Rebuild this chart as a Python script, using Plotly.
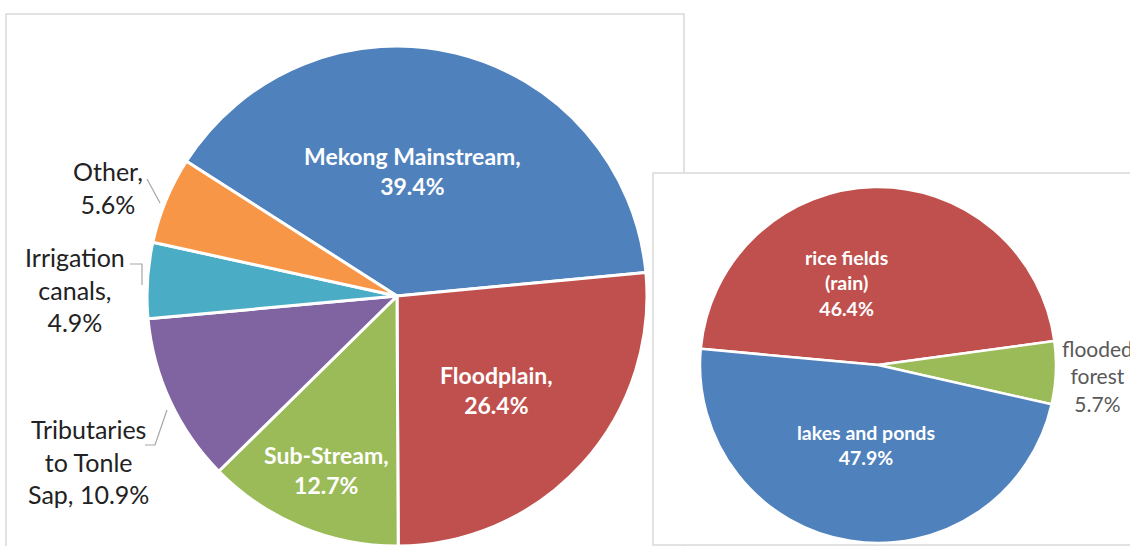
import plotly.graph_objects as go

W, H = 1130, 546

# left pie: main water bodies
main_labels = ["Mekong Mainstream", "Floodplain", "Sub-Stream",
               "Tributaries to Tonle Sap", "Irrigation canals", "Other"]
main_values = [39.4, 26.4, 12.7, 10.9, 4.9, 5.6]
main_colors = ["#4F81BD", "#C0504D", "#9BBB59", "#8064A2", "#4BACC6", "#F79646"]

# right pie: breakdown of floodplain
flood_labels = ["rice fields (rain)", "flooded forest", "lakes and ponds"]
flood_values = [46.4, 5.7, 47.9]
flood_colors = ["#C0504D", "#9BBB59", "#4F81BD"]


def px(x):
    return x / W


def py(y):
    return 1 - y / H


fig = go.Figure()

fig.add_trace(go.Pie(
    labels=main_labels, values=main_values, sort=False,
    direction="clockwise", rotation=-57.4,
    marker=dict(colors=main_colors, line=dict(color="white", width=3)),
    textinfo="none", hoverinfo="skip", showlegend=False,
    domain=dict(x=[px(147), px(647)], y=[0, 500 / H]),
))

fig.add_trace(go.Pie(
    labels=flood_labels, values=flood_values, sort=False,
    direction="clockwise", rotation=-84.8,
    marker=dict(colors=flood_colors, line=dict(color="white", width=2.5)),
    textinfo="none", hoverinfo="skip", showlegend=False,
    domain=dict(x=[px(700), px(1056)], y=[py(543), py(187)]),
))

# chart area boxes (right one overlaps the left)
fig.add_shape(type="rect", xref="paper", yref="paper", layer="below",
              x0=px(6), x1=px(684), y0=-0.05, y1=py(14),
              line=dict(color="#D9D9D9", width=1.5), fillcolor="white")
fig.add_shape(type="rect", xref="paper", yref="paper", layer="below",
              x0=px(653), x1=1.05, y0=py(545), y1=py(173),
              line=dict(color="#D9D9D9", width=1.5), fillcolor="white")

BIG = dict(family="Lato", size=23, color="white")
SIDE = dict(family="Lato", size=25, color="#222222")
SMALL = dict(family="Lato", size=19.5, color="white")
SMALL_SIDE = dict(family="Lato", size=21, color="#595959")

fmt = lambda v: f"{v:.1f}%"


def label(txt, x, y, font):
    fig.add_annotation(text=txt, x=px(x), y=py(y), xref="paper", yref="paper",
                       xanchor="center", yanchor="middle",
                       showarrow=False, font=font, align="center")


label(f"<b>{main_labels[0]},<br>{fmt(main_values[0])}</b>", 412, 171, BIG)
label(f"<b>{main_labels[1]},<br>{fmt(main_values[1])}</b>", 496, 390, BIG)
label(f"<b>{main_labels[2]},<br>{fmt(main_values[2])}</b>", 326, 470, BIG)

label("Tributaries<br>to Tonle<br>Sap, " + fmt(main_values[3]), 88, 461, SIDE)
label("Irrigation<br>canals,<br>" + fmt(main_values[4]), 75, 289, SIDE)
label("Other,<br>" + fmt(main_values[5]), 108, 187, SIDE)

label("<b>rice fields<br>(rain)<br>" + fmt(flood_values[0]) + "</b>", 846, 283, SMALL)
label("<b>" + flood_labels[2] + "<br>" + fmt(flood_values[2]) + "</b>", 866, 445, SMALL)
label("flooded<br>forest<br>" + fmt(flood_values[1]), 1097, 376, SMALL_SIDE)

# leader lines for the small outside labels
leaders = [
    [(147, 179), (160, 203)],
    [(130, 264), (142, 264), (142, 285)],
    [(145, 445), (155, 445), (167, 410)],
]
for pts in leaders:
    path = "M " + " L ".join(f"{px(x)},{py(y)}" for x, y in pts)
    fig.add_shape(type="path", path=path, xref="paper", yref="paper",
                  line=dict(color="#A6A6A6", width=1.2))

fig.update_layout(
    width=W, height=H,
    margin=dict(l=0, r=0, t=0, b=0),
    paper_bgcolor="white", plot_bgcolor="white",
)

fig.write_html("out.html", config={"displayModeBar": False},
               post_script="document.body.style.margin='0';")
